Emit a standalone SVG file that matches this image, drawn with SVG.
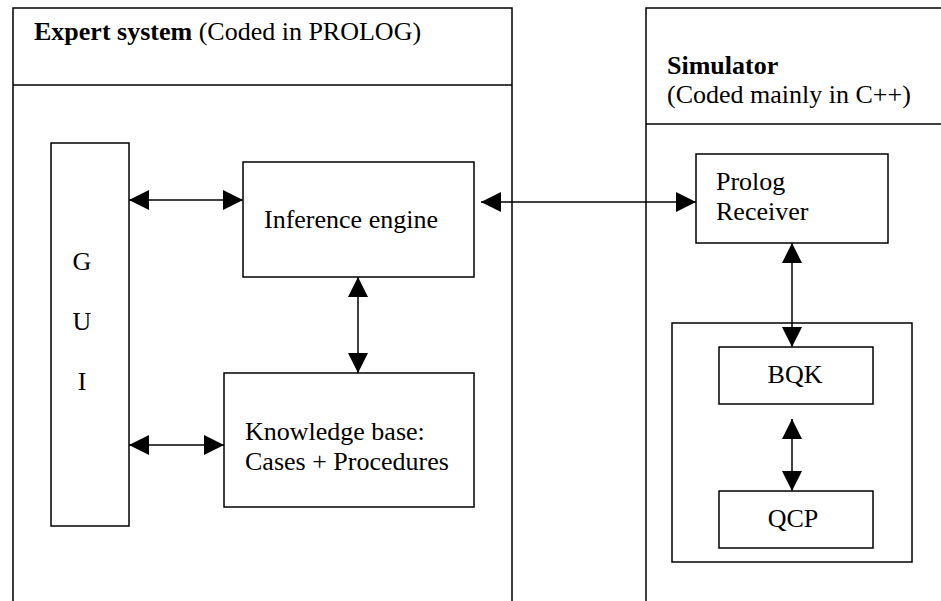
<svg xmlns="http://www.w3.org/2000/svg" width="941" height="601" viewBox="0 0 941 601">
<style>
.box{fill:#fff;stroke:#000;stroke-width:1.5}
.frame{fill:none;stroke:#000;stroke-width:1.5}
.conn{stroke:#000;stroke-width:1.5;fill:none}
text{font-family:"Liberation Serif","Times New Roman",serif;font-size:26px;fill:#000}
.b{font-weight:bold}
</style>
<defs>
<marker id="ah" markerUnits="userSpaceOnUse" markerWidth="20" markerHeight="20" refX="20" refY="10" orient="auto-start-reverse" viewBox="0 0 20 20">
<path d="M0,0 L20,10 L0,20 Z" fill="#000"/>
</marker>
</defs>
<g id="expert-system">
<path class="frame" d="M13,601 L13,8 L512,8 L512,601"/>
<line class="frame" x1="13" y1="85" x2="512" y2="85"/>
<text x="34" y="40"><tspan class="b">Expert system</tspan> (Coded in PROLOG)</text>
</g>
<g id="simulator">
<path class="frame" d="M646,601 L646,8 L945,8"/>
<line class="frame" x1="646" y1="124" x2="945" y2="124"/>
<text x="667" y="74" class="b">Simulator</text>
<text x="667" y="103">(Coded mainly in C++)</text>
</g>
<g id="gui">
<rect class="box" x="51" y="143" width="78" height="383"/>
<text x="82" y="270" text-anchor="middle">G</text>
<text x="82" y="330" text-anchor="middle">U</text>
<text x="82" y="390" text-anchor="middle">I</text>
</g>
<g id="inference-engine">
<rect class="box" x="243" y="162" width="231" height="115"/>
<text x="264" y="228">Inference engine</text>
</g>
<g id="knowledge-base">
<rect class="box" x="224" y="373" width="250" height="134"/>
<text x="245" y="440">Knowledge base:</text>
<text x="245" y="470">Cases + Procedures</text>
</g>
<g id="prolog-receiver">
<rect class="box" x="696" y="154" width="192" height="89"/>
<text x="716" y="190">Prolog</text>
<text x="716" y="220">Receiver</text>
</g>
<g id="simulator-core">
<rect class="box" x="672" y="323" width="240" height="239"/>
</g>
<g id="bqk">
<rect class="box" x="719" y="347" width="154" height="57"/>
<text x="795" y="383" text-anchor="middle">BQK</text>
</g>
<g id="qcp">
<rect class="box" x="719" y="491" width="154" height="57"/>
<text x="793" y="527" text-anchor="middle">QCP</text>
</g>
<g id="connectors">
<line class="conn" x1="129" y1="200" x2="243" y2="200" marker-start="url(#ah)" marker-end="url(#ah)"/>
<line class="conn" x1="481" y1="202" x2="696" y2="202" marker-start="url(#ah)" marker-end="url(#ah)"/>
<line class="conn" x1="358" y1="277" x2="358" y2="373" marker-start="url(#ah)" marker-end="url(#ah)"/>
<line class="conn" x1="129" y1="445" x2="224" y2="445" marker-start="url(#ah)" marker-end="url(#ah)"/>
<line class="conn" x1="792" y1="243" x2="792" y2="347" marker-start="url(#ah)" marker-end="url(#ah)"/>
<line class="conn" x1="792" y1="419" x2="792" y2="491" marker-start="url(#ah)" marker-end="url(#ah)"/>
</g>
</svg>
